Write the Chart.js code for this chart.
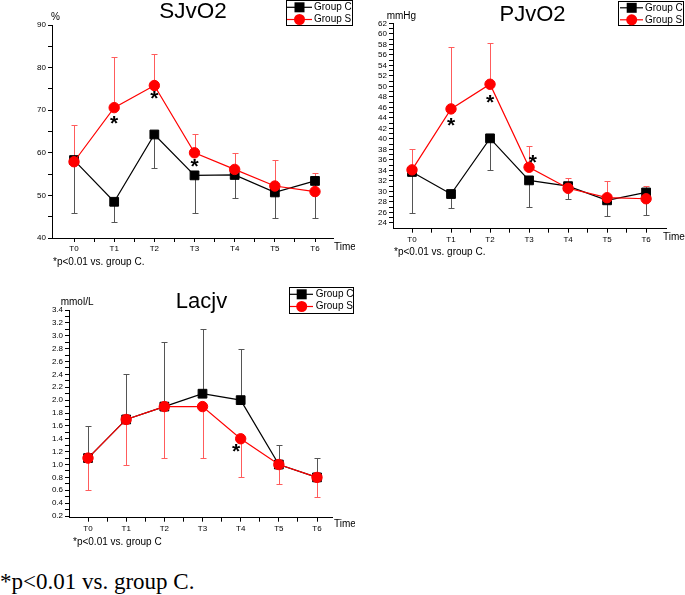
<!DOCTYPE html>
<html lang="en">
<head>
<meta charset="UTF-8">
<title>SJvO2 / PJvO2 / Lacjv</title>
<script src="https://cdn.jsdelivr.net/npm/chart.js"></script>
<style>
    body {
        margin: 0;
        background: #fff;
        width: 685px;
        height: 595px;
        position: relative;
        overflow: hidden;
    }
    canvas {
        position: absolute;
    }
    #note {
        position: absolute;
        left: 0;
        top: 570px;
        font-family: "Liberation Serif", "Times New Roman", serif;
        font-size: 23px;
        line-height: 23px;
        color: #000;
        white-space: nowrap;
    }
</style>
</head>
<body>
<canvas id="c1" width="355" height="275" style="left:0;top:0"></canvas>
<canvas id="c2" width="330" height="275" style="left:355px;top:0"></canvas>
<canvas id="c3" width="355" height="275" style="left:0;top:280px"></canvas>
<div id="note">*p&lt;0.01 vs. group C.</div>
<script>
// time points
const times = ['T0', 'T1', 'T2', 'T3', 'T4', 'T5', 'T6'];

// SJvO2 (%)
const sjvo2C = [58.3, 48.5, 64.3, 54.7, 54.8, 50.7, 53.4];
const sjvo2CSd = [12.5, 4.7, 7.9, 8.8, 5.3, 6.0, 8.7];      // drawn downward
const sjvo2S = [57.9, 70.6, 75.8, 60.0, 56.1, 52.2, 50.9];
const sjvo2SSd = [8.6, 11.8, 7.3, 4.5, 3.8, 6.0, 4.4];      // drawn upward
const sjvo2Stars = [[1, 67.7], [2, 73.6], [3, 57.5]];
const sjvo2Ticks = [40, 50, 60, 70, 80, 90];

// PJvO2 (mmHg)
const pjvo2C = [33.7, 29.5, 40.1, 32.1, 31.0, 28.3, 29.8];
const pjvo2CSd = [7.9, 2.7, 6.0, 5.1, 2.5, 3.0, 4.3];
const pjvo2S = [34.1, 45.7, 50.4, 34.6, 30.6, 28.8, 28.6];
const pjvo2SSd = [3.9, 11.7, 7.9, 4.0, 2.0, 3.1, 2.5];
const pjvo2Stars = [[1, 43.3], [2, 47.6], [3.1, 36.2]];
const pjvo2Ticks = [24, 26, 28, 30, 32, 34, 36, 38, 40, 42, 44, 46, 48, 50, 52, 54, 56, 58, 60, 62];

// Lacjv (mmol/L)
const lacC = [1.1, 1.7, 1.9, 2.1, 2.0, 1.0, 0.8];
const lacCSd = [0.5, 0.7, 1.0, 1.0, 0.8, 0.3, 0.3];         // drawn upward
const lacS = [1.1, 1.7, 1.9, 1.9, 1.4, 1.0, 0.8];
const lacSSd = [0.5, 0.7, 0.8, 0.8, 0.6, 0.3, 0.3];         // drawn downward
const lacStars = [[3.88, 1.26]];
const lacTicks = [0.2, 0.4, 0.6, 0.8, 1.0, 1.2, 1.4, 1.6, 1.8, 2.0, 2.2, 2.4, 2.6, 2.8, 3.0, 3.2, 3.4];

const FONT = '"Liberation Sans", Arial, sans-serif';

function pts(vals) {
    return vals.map((v, i) => ({ x: i, y: v }));
}

// error bars, asterisks, titles and legend box
const deco = {
    id: 'deco',
    beforeDatasetsDraw(chart) {
        const ctx = chart.ctx, xs = chart.scales.x, ys = chart.scales.y;
        chart.data.datasets.forEach(ds => {
            ctx.save();
            ctx.strokeStyle = ds.barColor;
            ctx.lineWidth = 1;
            ds.data.forEach((p, j) => {
                const x = Math.round(xs.getPixelForValue(p.x)) + 0.5;
                const y0 = ys.getPixelForValue(p.y);
                const y1 = Math.round(ys.getPixelForValue(p.y + ds.dir * ds.sd[j])) + 0.5;
                ctx.beginPath();
                ctx.moveTo(x, y0);
                ctx.lineTo(x, y1);
                ctx.moveTo(x - 3, y1);
                ctx.lineTo(x + 3, y1);
                ctx.stroke();
            });
            ctx.restore();
        });
    },
    afterDatasetsDraw(chart, args, o) {
        const ctx = chart.ctx, xs = chart.scales.x, ys = chart.scales.y;
        ctx.save();
        ctx.fillStyle = '#000';
        ctx.font = 'bold 21px ' + FONT;
        ctx.textAlign = 'center';
        ctx.textBaseline = 'alphabetic';
        const m = ctx.measureText('*');
        const off = (m.actualBoundingBoxAscent - m.actualBoundingBoxDescent) / 2;
        o.stars.forEach(s => {
            ctx.fillText('*', xs.getPixelForValue(s[0]), ys.getPixelForValue(s[1]) + off);
        });
        ctx.restore();
    },
    afterDraw(chart, args, o) {
        const ctx = chart.ctx;
        ctx.save();
        ctx.fillStyle = '#000';
        // title
        ctx.font = o.titleSize + 'px ' + FONT;
        ctx.textAlign = 'center';
        ctx.textBaseline = 'alphabetic';
        ctx.fillText(o.title, o.titleX, o.titleY);
        // unit, time, footnote
        ctx.textAlign = 'left';
        ctx.textBaseline = 'middle';
        ctx.font = '10px ' + FONT;
        ctx.fillText(o.unit, o.unitX, o.unitY);
        ctx.fillText('Time', o.timeX, o.timeY);
        ctx.fillText(o.note, o.noteX, o.noteY);
        // legend box
        const L = o.legend;
        ctx.strokeStyle = '#000';
        ctx.lineWidth = 1;
        ctx.strokeRect(L.x1 + 0.5, L.y1 + 0.5, L.x2 - L.x1, L.y2 - L.y1);
        const rows = [
            { label: 'Group C', color: '#000', style: 'rect' },
            { label: 'Group S', color: '#ff0000', style: 'circle' }
        ];
        rows.forEach((r, i) => {
            const y = L.rows[i];
            ctx.strokeStyle = r.color;
            ctx.lineWidth = 1.2;
            ctx.beginPath();
            ctx.moveTo(L.lx1, y);
            ctx.lineTo(L.lx2, y);
            ctx.stroke();
            ctx.fillStyle = r.color;
            if (r.style === 'rect') {
                ctx.fillRect(L.mx - 5, y - 5, 10, 10);
            } else {
                ctx.beginPath();
                ctx.arc(L.mx, y, 5.5, 0, Math.PI * 2);
                ctx.fill();
            }
            ctx.fillStyle = '#000';
            ctx.fillText(r.label, L.tx, y);
        });
        ctx.restore();
    }
};

function makeChart(id, c) {
    const majors = c.ticks;
    const yTicks = [];
    majors.forEach((v, i) => {
        yTicks.push(v);
        if (i < majors.length - 1) yTicks.push((v + majors[i + 1]) / 2);
    });
    new Chart(document.getElementById(id), {
        type: 'line',
        data: {
            datasets: [{
                label: 'Group S',
                data: pts(c.s),
                sd: c.sSd,
                dir: c.sDir,
                barColor: '#ff5c5c',
                borderColor: '#ff0000',
                backgroundColor: '#ff0000',
                pointStyle: 'circle',
                pointRadius: 5.2,
                pointBorderWidth: 1,
                borderWidth: 1.2,
                order: 0
            }, {
                label: 'Group C',
                data: pts(c.c),
                sd: c.cSd,
                dir: c.cDir,
                barColor: '#555',
                borderColor: '#000',
                backgroundColor: '#000',
                pointStyle: 'rect',
                pointRadius: 6.2,
                pointBorderWidth: 1,
                borderWidth: 1.2,
                order: 1
            }]
        },
        options: {
            responsive: false,
            animation: false,
            clip: false,
            layout: { padding: c.pad },
            plugins: {
                legend: { display: false },
                tooltip: { enabled: false },
                deco: c.deco
            },
            scales: {
                x: {
                    type: 'linear',
                    min: c.xMin,
                    max: c.xMax,
                    afterBuildTicks: s => {
                        s.ticks = [];
                        for (let v = 0; v <= 6; v += 0.5) s.ticks.push({ value: v });
                    },
                    afterFit: s => { s.height = c.xH; },
                    ticks: {
                        autoSkip: false,
                        maxRotation: 0,
                        padding: 2,
                        color: '#000',
                        font: { size: 8, family: FONT },
                        callback: v => Number.isInteger(v) ? times[v] : ''
                    },
                    grid: { drawOnChartArea: false, tickLength: 4, color: '#000' },
                    border: { color: '#000', width: 1 }
                },
                y: {
                    min: c.yMin,
                    max: c.yMax,
                    afterBuildTicks: s => { s.ticks = yTicks.map(v => ({ value: v })); },
                    afterFit: s => { s.width = c.yW; },
                    ticks: {
                        autoSkip: false,
                        padding: 2,
                        color: '#000',
                        font: { size: 8, family: FONT },
                        callback: v => majors.some(m => Math.abs(m - v) < 1e-6) ? v.toFixed(c.dec) : ''
                    },
                    grid: { drawOnChartArea: false, tickLength: 4, color: '#000' },
                    border: { color: '#000', width: 1 }
                }
            }
        },
        plugins: [deco]
    });
}

makeChart('c1', {
    c: sjvo2C, cSd: sjvo2CSd, cDir: -1,
    s: sjvo2S, sSd: sjvo2SSd, sDir: 1,
    ticks: sjvo2Ticks, dec: 0,
    yMin: 40, yMax: 90, xMin: -0.548, xMax: 6.448,
    yW: 52, xH: 37, pad: { left: 0, top: 25, right: 22, bottom: 0 },
    deco: {
        title: 'SJvO2', titleSize: 22.5, titleX: 193, titleY: 17.5,
        unit: '%', unitX: 51, unitY: 17,
        timeX: 334, timeY: 247,
        note: '*p<0.01 vs. group C.', noteX: 53, noteY: 262,
        stars: sjvo2Stars,
        legend: { x1: 286, y1: 0, x2: 352, y2: 25, rows: [7.3, 19.5], lx1: 287, lx2: 312, mx: 299.5, tx: 314 }
    }
});

makeChart('c2', {
    c: pjvo2C, cSd: pjvo2CSd, cDir: -1,
    s: pjvo2S, sSd: pjvo2SSd, sDir: 1,
    ticks: pjvo2Ticks, dec: 0,
    yMin: 22.9, yMax: 62, xMin: -0.487, xMax: 6.51,
    yW: 38, xH: 46.3, pad: { left: 0, top: 23.3, right: 19, bottom: 0 },
    deco: {
        title: 'PJvO2', titleSize: 22, titleX: 177.5, titleY: 21,
        unit: 'mmHg', unitX: 31.7, unitY: 16.7,
        timeX: 308, timeY: 237,
        note: '*p<0.01 vs. group C.', noteX: 39, noteY: 252,
        stars: pjvo2Stars,
        legend: { x1: 263, y1: 1, x2: 328, y2: 25, rows: [7.8, 19.8], lx1: 265, lx2: 288, mx: 276.7, tx: 290 }
    }
});

makeChart('c3', {
    c: lacC, cSd: lacCSd, cDir: 1,
    s: lacS, sSd: lacSSd, sDir: -1,
    ticks: lacTicks, dec: 1,
    yMin: 0.174, yMax: 3.4, xMin: -0.498, xMax: 6.393,
    yW: 69, xH: 37.3, pad: { left: 0, top: 30, right: 23, bottom: 0 },
    deco: {
        title: 'Lacjv', titleSize: 22, titleX: 201.5, titleY: 28.3,
        unit: 'mmol/L', unitX: 60.7, unitY: 22.3,
        timeX: 334, timeY: 244,
        note: '*p<0.01 vs. group C', noteX: 73, noteY: 262.7,
        stars: lacStars,
        legend: { x1: 289, y1: 7, x2: 353, y2: 33, rows: [14.3, 26.5], lx1: 290, lx2: 313, mx: 301.7, tx: 315.7 }
    }
});
</script>
</body>
</html>
